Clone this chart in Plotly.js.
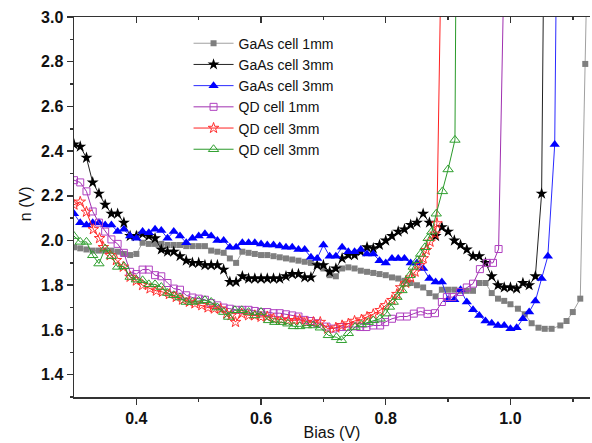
<!DOCTYPE html>
<html>
<head>
<meta charset="utf-8">
<script src="https://cdn.plot.ly/plotly-3.0.1.min.js"></script>
<style>html,body{margin:0;padding:0;background:#fff;}#chart{width:592px;height:443px;}</style>
</head>
<body>
<div id="chart"></div>
<script>
// ---- Data ----
const seriesNames = ["GaAs cell 1mm", "GaAs cell 3mm", "GaAs cell 3mm", "QD cell 1mm", "QD cell 3mm", "QD cell 3mm"];

const gaas1X = [0.30,0.31,0.32,0.33,0.34,0.35,0.36,0.37,0.38,0.39,0.40,0.41,0.42,0.43,0.44,0.45,0.46,0.47,0.48,0.49,0.50,0.51,0.52,0.53,0.54,0.55,0.56,0.57,0.58,0.59,0.60,0.61,0.62,0.63,0.64,0.65,0.66,0.67,0.68,0.69,0.70,0.71,0.72,0.73,0.74,0.75,0.76,0.77,0.78,0.79,0.80,0.81,0.82,0.83,0.84,0.85,0.86,0.87,0.88,0.89,0.90,0.91,0.92,0.93,0.94,0.95,0.96,0.97,0.98,0.99,1.00,1.012,1.023,1.034,1.045,1.055,1.066,1.08,1.09,1.10,1.112,1.12,1.125];
const gaas1Y = [1.97,1.965,1.96,1.955,1.955,1.955,1.955,1.95,1.94,1.935,1.94,1.99,1.985,1.985,1.985,1.98,1.98,1.98,1.975,1.975,1.975,1.975,1.955,1.95,1.945,1.92,1.90,1.95,1.945,1.94,1.935,1.935,1.93,1.925,1.92,1.915,1.91,1.905,1.90,1.89,1.875,1.845,1.84,1.875,1.88,1.875,1.865,1.86,1.855,1.85,1.845,1.835,1.83,1.82,1.81,1.80,1.79,1.765,1.75,1.78,1.78,1.78,1.775,1.775,1.775,1.81,1.81,1.765,1.74,1.73,1.715,1.695,1.67,1.63,1.61,1.605,1.605,1.62,1.64,1.68,1.74,2.79,3.5];

const gaas3aX = [0.30,0.31,0.32,0.33,0.34,0.35,0.36,0.37,0.38,0.39,0.40,0.41,0.42,0.43,0.44,0.45,0.46,0.47,0.48,0.49,0.50,0.51,0.52,0.53,0.54,0.55,0.56,0.57,0.58,0.59,0.60,0.61,0.62,0.63,0.64,0.65,0.66,0.67,0.68,0.69,0.70,0.71,0.72,0.73,0.74,0.75,0.76,0.77,0.78,0.79,0.80,0.81,0.82,0.83,0.84,0.85,0.86,0.87,0.88,0.89,0.90,0.91,0.92,0.93,0.94,0.95,0.96,0.97,0.98,0.99,1.00,1.01,1.02,1.03,1.04,1.05,1.055];
const gaas3aY = [2.43,2.42,2.37,2.26,2.21,2.16,2.12,2.12,2.08,2.02,2.02,2.03,2.02,2.01,1.96,1.95,1.95,1.93,1.91,1.90,1.90,1.89,1.89,1.89,1.87,1.815,1.815,1.84,1.83,1.83,1.83,1.83,1.83,1.83,1.84,1.85,1.85,1.835,1.835,1.89,1.89,1.86,1.875,1.92,1.935,1.935,1.95,1.97,1.965,1.98,2.00,2.02,2.04,2.05,2.07,2.08,2.12,2.08,2.02,2.06,2.04,2.00,1.98,1.96,1.93,1.93,1.90,1.84,1.80,1.79,1.79,1.785,1.81,1.80,1.84,2.21,3.73];

const gaas3bX = [0.30,0.31,0.32,0.33,0.34,0.35,0.36,0.37,0.38,0.39,0.40,0.41,0.42,0.43,0.44,0.45,0.46,0.47,0.48,0.49,0.50,0.51,0.52,0.53,0.54,0.55,0.56,0.57,0.58,0.59,0.60,0.61,0.62,0.63,0.64,0.65,0.66,0.67,0.68,0.69,0.70,0.71,0.72,0.73,0.74,0.75,0.76,0.77,0.78,0.79,0.80,0.81,0.82,0.83,0.84,0.85,0.86,0.87,0.88,0.89,0.90,0.91,0.92,0.93,0.94,0.95,0.96,0.97,0.98,0.99,1.00,1.01,1.02,1.03,1.04,1.05,1.06,1.071,1.075];
const gaas3bY = [2.12,2.08,2.07,2.08,2.08,2.07,2.07,2.04,2.05,2.02,2.01,2.04,2.035,2.05,2.045,2.01,2.04,2.02,1.99,2.01,2.02,2.03,2.02,2.00,2.00,1.97,1.97,1.99,1.99,1.99,1.985,1.98,1.98,1.975,1.97,1.97,1.96,1.96,1.925,1.92,1.98,1.93,1.93,1.97,1.95,1.95,1.96,1.94,1.94,1.91,1.90,1.92,1.92,1.92,1.90,1.90,1.875,1.83,1.815,1.815,1.735,1.735,1.78,1.725,1.69,1.665,1.64,1.63,1.62,1.62,1.605,1.61,1.65,1.68,1.73,1.83,1.93,2.43,3.61];

const qd1X = [0.30,0.31,0.32,0.33,0.34,0.35,0.36,0.37,0.38,0.39,0.40,0.41,0.42,0.43,0.44,0.45,0.46,0.47,0.48,0.49,0.50,0.51,0.52,0.53,0.54,0.55,0.56,0.57,0.58,0.59,0.60,0.61,0.62,0.63,0.64,0.65,0.66,0.67,0.68,0.69,0.705,0.716,0.727,0.737,0.748,0.759,0.769,0.78,0.791,0.799,0.81,0.823,0.834,0.845,0.856,0.867,0.879,0.89,0.898,0.907,0.919,0.93,0.94,0.951,0.962,0.972,0.981,0.99];
const qd1Y = [2.27,2.26,2.22,2.13,2.08,2.04,2.005,1.985,1.945,1.86,1.85,1.87,1.87,1.845,1.84,1.81,1.785,1.78,1.755,1.745,1.74,1.735,1.72,1.71,1.70,1.695,1.69,1.69,1.69,1.685,1.68,1.68,1.675,1.675,1.67,1.665,1.66,1.645,1.64,1.63,1.615,1.606,1.613,1.613,1.616,1.613,1.613,1.62,1.62,1.635,1.65,1.66,1.66,1.673,1.683,1.672,1.675,1.725,1.747,1.747,1.77,1.79,1.807,1.872,1.9,1.9,1.962,3.27];

const qd3aX = [0.30,0.31,0.32,0.331,0.341,0.347,0.358,0.368,0.379,0.39,0.40,0.41,0.422,0.432,0.442,0.453,0.464,0.474,0.485,0.494,0.505,0.515,0.525,0.535,0.545,0.552,0.559,0.569,0.58,0.59,0.60,0.61,0.62,0.633,0.644,0.654,0.662,0.673,0.684,0.695,0.707,0.72,0.73,0.74,0.75,0.761,0.77,0.78,0.791,0.80,0.81,0.818,0.824,0.832,0.84,0.847,0.855,0.86,0.865,0.871,0.879,0.882,0.89];
const qd3aY = [2.16,2.173,2.128,2.05,2.01,1.97,1.934,1.912,1.882,1.837,1.82,1.80,1.785,1.775,1.77,1.76,1.747,1.735,1.725,1.718,1.71,1.70,1.695,1.695,1.673,1.665,1.635,1.673,1.665,1.665,1.658,1.66,1.65,1.646,1.643,1.643,1.646,1.635,1.635,1.635,1.605,1.61,1.62,1.628,1.64,1.646,1.658,1.67,1.688,1.71,1.733,1.76,1.79,1.81,1.834,1.86,1.89,1.92,1.957,1.994,2.03,2.076,3.47];

const qd3bX = [0.30,0.31,0.32,0.33,0.34,0.35,0.36,0.37,0.38,0.39,0.40,0.41,0.42,0.43,0.44,0.45,0.46,0.47,0.48,0.49,0.50,0.51,0.52,0.53,0.54,0.548,0.558,0.569,0.58,0.59,0.60,0.612,0.622,0.632,0.643,0.652,0.662,0.673,0.684,0.695,0.708,0.721,0.729,0.74,0.751,0.761,0.772,0.78,0.791,0.80,0.806,0.812,0.818,0.826,0.831,0.839,0.844,0.851,0.856,0.863,0.868,0.874,0.881,0.891,0.90,0.911,0.915];
const qd3bY = [2.02,1.994,1.994,1.934,1.897,1.964,1.93,1.882,1.885,1.837,1.825,1.822,1.804,1.804,1.792,1.765,1.755,1.745,1.725,1.725,1.73,1.733,1.725,1.70,1.68,1.658,1.688,1.688,1.68,1.665,1.68,1.643,1.635,1.635,1.628,1.616,1.616,1.62,1.62,1.61,1.576,1.567,1.554,1.585,1.613,1.625,1.635,1.643,1.65,1.673,1.703,1.725,1.747,1.777,1.807,1.845,1.882,1.912,1.94,1.97,2.01,2.04,2.12,2.22,2.318,2.45,4.3];

const xTickVals = [0.4, 0.6, 0.8, 1.0];
const xTickText = ["0.4", "0.6", "0.8", "1.0"];
const yTickVals = [1.4, 1.6, 1.8, 2.0, 2.2, 2.4, 2.6, 2.8, 3.0];
const yTickText = ["1.4", "1.6", "1.8", "2.0", "2.2", "2.4", "2.6", "2.8", "3.0"];

// ---- Styles ----
const styles = [
  {line: '#a0a0a0', marker: {symbol: 'square', size: 6, color: '#7f7f7f'}},
  {line: '#222222', marker: {symbol: 'star', size: 9, color: '#000000'}},
  {line: '#2a2aff', marker: {symbol: 'triangle-up', size: 9, color: '#0000ff'}},
  {line: '#a030b0', marker: {symbol: 'square-open', size: 7, color: '#b040c0', line: {width: 1}}},
  {line: '#ff2020', marker: {symbol: 'star-open', size: 8, color: '#ff3030', line: {width: 1}}},
  {line: '#2a9a2a', marker: {symbol: 'triangle-up-open', size: 9, color: '#30a030', line: {width: 1}}}
];
const xs = [gaas1X, gaas3aX, gaas3bX, qd1X, qd3aX, qd3bX];
const ys = [gaas1Y, gaas3aY, gaas3bY, qd1Y, qd3aY, qd3bY];

const traces = xs.map((x, i) => ({
  type: 'scatter', mode: 'lines+markers', x: x, y: ys[i], name: seriesNames[i],
  line: {color: styles[i].line, width: 1},
  marker: styles[i].marker
}));
// invisible trace to carry top axis
traces.push({type: 'scatter', x: [0.5], y: [2], xaxis: 'x2', mode: 'markers', marker: {opacity: 0}, showlegend: false, hoverinfo: 'skip'});

const fam = 'Arial, "Liberation Sans", sans-serif';
const tickFont = {family: fam, size: 16, color: '#111', weight: 'bold'};
const xRange = [0.3, 1.1276];

const layout = {
  width: 592, height: 443,
  margin: {l: 74, r: 2, t: 17, b: 46},
  paper_bgcolor: '#ffffff', plot_bgcolor: '#ffffff',
  showlegend: true,
  legend: {
    x: 0.222, y: 0.972, xanchor: 'left', yanchor: 'top',
    bgcolor: 'rgba(0,0,0,0)', borderwidth: 0,
    font: {family: fam, size: 14, color: '#111'},
    itemwidth: 40
  },
  xaxis: {
    range: xRange, tickvals: xTickVals, ticktext: xTickText,
    ticks: 'outside', ticklen: 6, tickwidth: 1.5, tickcolor: '#333',
    minor: {tickvals: [0.5, 0.7, 0.9, 1.1], ticks: 'outside', ticklen: 3, tickwidth: 1.5, tickcolor: '#333'},
    showline: true, linecolor: '#333', linewidth: 1.5, showgrid: false, zeroline: false,
    tickfont: tickFont,
    title: {text: 'Bias (V)', font: {family: fam, size: 16, color: '#111'}, standoff: 1}
  },
  xaxis2: {
    range: xRange, overlaying: 'x', side: 'top', anchor: 'y',
    tickvals: xTickVals, showticklabels: false,
    ticks: 'inside', ticklen: 6, tickwidth: 1.5, tickcolor: '#333',
    minor: {tickvals: [0.5, 0.7, 0.9, 1.1], ticks: 'inside', ticklen: 3, tickwidth: 1.5, tickcolor: '#333'},
    showline: true, linecolor: '#333', linewidth: 1.5, showgrid: false, zeroline: false
  },
  yaxis: {
    range: [1.3, 3.0], tickvals: yTickVals, ticktext: yTickText,
    ticks: 'outside', ticklen: 6, tickwidth: 1.5, tickcolor: '#333',
    minor: {tickvals: [1.3, 1.5, 1.7, 1.9, 2.1, 2.3, 2.5, 2.7, 2.9], ticks: 'outside', ticklen: 3, tickwidth: 1.5, tickcolor: '#333'},
    showline: true, linecolor: '#333', linewidth: 1.5, showgrid: false, zeroline: false,
    tickfont: tickFont
  },
  annotations: [{
    text: 'n (V)', textangle: -90, showarrow: false,
    xref: 'paper', yref: 'paper', x: -0.095, y: 0.51, xanchor: 'center', yanchor: 'middle',
    font: {family: fam, size: 16, color: '#111'}
  }]
};

Plotly.newPlot('chart', traces, layout, {staticPlot: true, displayModeBar: false});
</script>
</body>
</html>
